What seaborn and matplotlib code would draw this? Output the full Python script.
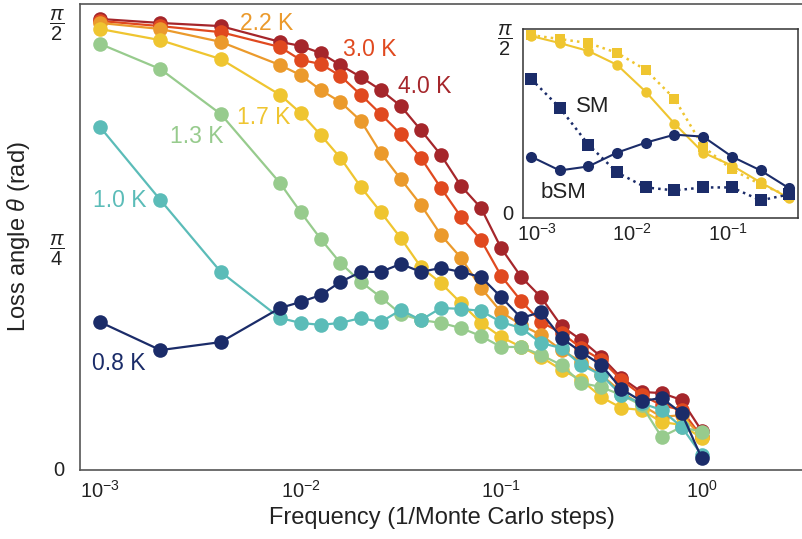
import matplotlib
matplotlib.use("Agg")
import matplotlib.pyplot as plt
import matplotlib.ticker as mticker
import matplotlib.transforms as mtransforms
import seaborn as sns
import numpy as np
import pandas as pd

# ---------------- data ----------------
freq = [0.001, 0.002, 0.004, 0.0079, 0.01, 0.0126, 0.0158, 0.02, 0.0251, 0.0316,
        0.0398, 0.0501, 0.0631, 0.0794, 0.1, 0.126, 0.158, 0.2, 0.251, 0.316,
        0.398, 0.501, 0.631, 0.794, 1.0]

temps = ["4.0 K", "3.0 K", "2.2 K", "1.7 K", "1.3 K", "1.0 K", "0.8 K"]

theta_4p0 = [1.571, 1.557, 1.546, 1.491, 1.477, 1.452, 1.410, 1.368, 1.323, 1.267,
             1.183, 1.096, 0.988, 0.911, 0.771, 0.670, 0.600, 0.499, 0.450, 0.391,
             0.318, 0.269, 0.265, 0.241, 0.133]
theta_3p0 = [1.564, 1.546, 1.525, 1.473, 1.428, 1.414, 1.372, 1.306, 1.239, 1.169,
             1.086, 0.981, 0.880, 0.799, 0.674, 0.586, 0.513, 0.475, 0.422, 0.380,
             0.311, 0.258, 0.223, 0.206, 0.112]
theta_2p2 = [1.557, 1.536, 1.491, 1.410, 1.375, 1.323, 1.281, 1.215, 1.103, 1.012,
             0.922, 0.817, 0.737, 0.632, 0.548, 0.503, 0.468, 0.415, 0.374, 0.328,
             0.269, 0.223, 0.182, 0.188, 0.112]
theta_1p7 = [1.536, 1.497, 1.431, 1.306, 1.243, 1.166, 1.086, 0.984, 0.897, 0.806,
             0.705, 0.649, 0.579, 0.510, 0.461, 0.426, 0.391, 0.346, 0.311, 0.251,
             0.213, 0.206, 0.164, 0.154, 0.108]
theta_1p3 = [1.484, 1.396, 1.239, 0.998, 0.897, 0.803, 0.719, 0.653, 0.600, 0.541,
             0.520, 0.510, 0.492, 0.464, 0.426, 0.426, 0.398, 0.363, 0.300, 0.286,
             0.258, 0.223, 0.112, 0.147, 0.129]
theta_1p0 = [1.194, 0.939, 0.688, 0.527, 0.510, 0.503, 0.510, 0.527, 0.513, 0.555,
             0.520, 0.562, 0.559, 0.552, 0.513, 0.492, 0.440, 0.422, 0.363, 0.328,
             0.258, 0.230, 0.206, 0.147, 0.049]
theta_0p8 = [0.513, 0.415, 0.443, 0.562, 0.583, 0.607, 0.653, 0.688, 0.688, 0.716,
             0.688, 0.702, 0.688, 0.670, 0.600, 0.527, 0.548, 0.457, 0.408, 0.363,
             0.279, 0.237, 0.248, 0.195, 0.038]

colors = ["#a5262b", "#e0491f", "#eb9a2c", "#efc530", "#97cb8d", "#5bbcb8", "#1b2c69"]

inset_freq = [0.001, 0.002, 0.004, 0.008, 0.016, 0.032, 0.064, 0.128, 0.256, 0.512]
inset_bsm_hot = [1.554, 1.494, 1.426, 1.308, 1.078, 0.807, 0.560, 0.450, 0.306, 0.170]
inset_sm_hot = [1.562, 1.528, 1.494, 1.410, 1.265, 1.019, 0.611, 0.416, 0.289, 0.187]
inset_sm_cold = [1.189, 0.943, 0.628, 0.391, 0.263, 0.238, 0.263, 0.263, 0.153, 0.204]
inset_bsm_cold = [0.526, 0.408, 0.442, 0.560, 0.645, 0.713, 0.696, 0.526, 0.408, 0.255]

series = [theta_4p0, theta_3p0, theta_2p2, theta_1p7, theta_1p3, theta_1p0, theta_0p8]

# ---------------- style ----------------
sns.set_style("white")
plt.rcParams["font.family"] = ["Liberation Sans", "DejaVu Sans"]
plt.rcParams["mathtext.fontset"] = "custom"
plt.rcParams["mathtext.rm"] = "Liberation Sans"
plt.rcParams["mathtext.it"] = "Liberation Sans:italic"
plt.rcParams["mathtext.bf"] = "Liberation Sans:bold"

spine_col = "#555555"
text_col = "#222222"

fig = plt.figure(figsize=(8.03, 5.39), dpi=100)
ax = fig.add_axes([80 / 803, 1 - 470 / 539, 723 / 803, 466 / 539])

for name, vals, col in zip(temps, series, colors):
    df = pd.DataFrame({"freq": freq, "theta": vals})
    sns.lineplot(data=df, x="freq", y="theta", ax=ax, color=col, marker="o",
                 markersize=10.5, markeredgewidth=0, linewidth=1.6, sort=False)

ax.set_xscale("log")
ax.set_xlim(10 ** -3.0997, 10 ** 0.505)
ax.set_ylim(-0.0035, 1.6232)

ax.xaxis.set_major_locator(mticker.FixedLocator([1e-3, 1e-2, 1e-1, 1e0]))
ax.xaxis.set_minor_locator(mticker.LogLocator(base=10, subs=np.arange(2, 10), numticks=20))
ax.xaxis.set_minor_formatter(mticker.NullFormatter())
ax.set_yticks([0, np.pi / 4, np.pi / 2])
ax.set_yticklabels(["0", r"$\dfrac{\pi}{4}$", r"$\dfrac{\pi}{2}$"])

ax.tick_params(axis="x", which="major", direction="in", length=7, width=1.1,
               color=spine_col, labelsize=14.5, labelcolor=text_col, pad=7)
ax.tick_params(axis="x", which="minor", direction="in", length=4, width=1.0, color=spine_col)
ax.tick_params(axis="y", which="major", direction="out", length=9, width=1.1,
               color=spine_col, labelsize=14.5, labelcolor=text_col, pad=2)
ax.tick_params(axis="both", top=False, right=False)

for s in ["left", "bottom", "top"]:
    ax.spines[s].set_color(spine_col)
    ax.spines[s].set_linewidth(1.2)
ax.spines["right"].set_visible(False)

ax.set_xlabel("Frequency (1/Monte Carlo steps)", fontsize=17, color=text_col, labelpad=4)
ax.set_ylabel(r"Loss angle $\theta$ (rad)", fontsize=17, color=text_col)
ax.yaxis.set_label_coords(-0.066, 0.5)

label_pos = {"2.2 K": (0.2213, 0.9592), "3.0 K": (0.3638, 0.9013), "4.0 K": (0.4398, 0.8219),
             "1.7 K": (0.2172, 0.7575), "1.3 K": (0.1245, 0.7146), "1.0 K": (0.0180, 0.5773),
             "0.8 K": (0.0166, 0.2275)}
for name, col in zip(temps, colors):
    px, py = label_pos[name]
    ax.text(px, py, name, transform=ax.transAxes, fontsize=16.5, color=col,
            ha="left", va="center")

# ---------------- inset ----------------
ins = fig.add_axes([522.7 / 803, 1 - 218.3 / 539, 275 / 803, 189 / 539])
ins.set_facecolor("white")
hot, cold = "#efc530", "#1b2c69"
sns.lineplot(x=inset_freq, y=inset_sm_hot, ax=ins, color=hot, marker="s", markersize=7.5,
             markeredgewidth=0, linewidth=1.8, linestyle=":", sort=False)
sns.lineplot(x=inset_freq, y=inset_bsm_hot, ax=ins, color=hot, marker="o", markersize=7.5,
             markeredgewidth=0, linewidth=1.5, sort=False)
sns.lineplot(x=inset_freq, y=inset_sm_cold, ax=ins, color=cold, marker="s", markersize=8,
             markeredgewidth=0, linewidth=1.8, linestyle=":", sort=False)
sns.lineplot(x=inset_freq, y=inset_bsm_cold, ax=ins, color=cold, marker="o", markersize=8,
             markeredgewidth=0, linewidth=1.5, sort=False)

ins.set_xscale("log")
ins.set_xlim(10 ** -3.087, 10 ** -0.2025)
ins.set_ylim(0.006, 1.611)
ins.xaxis.set_major_locator(mticker.FixedLocator([1e-3, 1e-2, 1e-1]))
ins.xaxis.set_minor_locator(mticker.LogLocator(base=10, subs=np.arange(2, 10), numticks=20))
ins.xaxis.set_minor_formatter(mticker.NullFormatter())
ins.set_yticks([0, np.pi / 4, np.pi / 2])
ins.set_yticklabels(["0", "", r"$\dfrac{\pi}{2}$"])
ins.tick_params(axis="x", which="major", direction="in", length=6, width=1.0,
                color="#333333", labelsize=14.5, labelcolor=text_col, pad=3)
ins.tick_params(axis="x", which="minor", direction="in", length=3, width=0.9, color="#333333")
ins.tick_params(axis="y", which="major", direction="in", length=6, width=1.0,
                color="#333333", labelsize=14.5, labelcolor=text_col, pad=7)
for s in ins.spines.values():
    s.set_color("#333333")
    s.set_linewidth(1.1)
ins.set_xlabel("")
ins.set_ylabel("")

# shift inset x tick labels slightly right, raise the inset "0" label
shift_r = mtransforms.ScaledTranslation(6 / 100, 0, fig.dpi_scale_trans)
for lab in ins.get_xticklabels():
    lab.set_transform(lab.get_transform() + shift_r)
shift_up = mtransforms.ScaledTranslation(0, 6 / 100, fig.dpi_scale_trans)
ylabs = ins.get_yticklabels()
ylabs[0].set_transform(ylabs[0].get_transform() + shift_up)

ins.text(0.194, 0.589, "SM", transform=ins.transAxes, fontsize=16, color=text_col,
         ha="left", va="center")
ins.text(0.0665, 0.134, "bSM", transform=ins.transAxes, fontsize=16, color=text_col,
         ha="left", va="center")

fig.savefig("out.png", dpi=100)
